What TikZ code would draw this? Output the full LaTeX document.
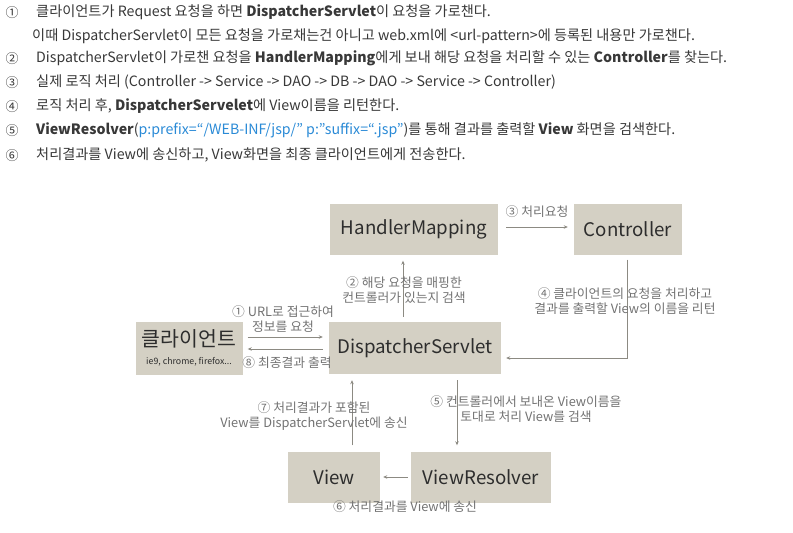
\documentclass[tikz,border=0pt]{standalone}
\usepackage{fontspec}
\setmainfont{Noto Sans CJK KR}
\usetikzlibrary{positioning,arrows.meta}
\definecolor{boxbeige}{HTML}{D4D0C4}
\definecolor{wire}{HTML}{8C8A82}
\definecolor{note}{HTML}{727272}
\definecolor{ink}{HTML}{383838}
\definecolor{linkblue}{HTML}{2A8AD6}

\begin{document}
\begin{tikzpicture}[x=1pt, y=-1pt,
  numlabel/.style={inner sep=0pt, text=ink, font=\fontsize{13}{15}\selectfont},
  textline/.style={anchor=west, inner sep=0pt, text height=10pt, text depth=3pt, text=ink, font=\fontsize{14.2}{16}\selectfont},
  box/.style={fill=boxbeige, inner sep=0pt, minimum height=51pt, text=ink!80!black, font=\fontsize{18.7}{19}\selectfont},
  flow/.style={draw=wire, line width=1pt, -{Stealth[length=4pt,width=3.5pt]}},
  remark/.style={align=center, inner sep=0pt, text=note, font=\fontsize{12.8}{14.5}\selectfont}]
\useasboundingbox (0,0) rectangle (793,533);

\node[numlabel] (n1) at (12,13) {①};
\node[textline] (t1) at (36,13) {클라이언트가 Request 요청을 하면 \textbf{DispatcherServlet}이 요청을 가로챈다.};
\node[textline] (t1b) at (32,37) {이때 DispatcherServlet이 모든 요청을 가로채는건 아니고 web.xml에 <url-pattern>에 등록된 내용만 가로챈다.};
\node[numlabel] (n2) at (12,59) {②};
\node[textline] (t2) at (36,59) {DispatcherServlet이 가로챈 요청을 \textbf{HandlerMapping}에게 보내 해당 요청을 처리할 수 있는 \textbf{Controller}를 찾는다.};
\node[numlabel] (n3) at (12,83) {③};
\node[textline] (t3) at (36,83) {실제 로직 처리 (Controller -> Service -> DAO -> DB -> DAO -> Service -> Controller)};
\node[numlabel] (n4) at (12,107) {④};
\node[textline] (t4) at (36,107) {로직 처리 후, \textbf{DispatcherServelet}에 View이름을 리턴한다.};
\node[numlabel] (n5) at (12,131) {⑤};
\node[textline] (t5) at (36,131) {\textbf{ViewResolver}(\textcolor{linkblue}{p:prefix=“/WEB-INF/jsp/” p:”suffix=“.jsp”})를 통해 결과를 출력할 \textbf{View} 화면을 검색한다.};
\node[numlabel] (n6) at (12,156) {⑥};
\node[textline] (t6) at (36,156) {처리결과를 View에 송신하고, View화면을 최종 클라이언트에게 전송한다.};

\node[box, minimum width=168pt] (hm) at (414,229) {HandlerMapping};
\node[box, minimum width=108pt] (ctrl) at (628,229) {Controller};
\node[box, minimum width=107pt, minimum height=53pt, align=center] (client) at (189,348) {{\fontsize{20.5}{21}\selectfont 클라이언트}\\[-1pt]{\fontsize{8.8}{9}\selectfont ie9, chrome, firefox...}};
\node[box, minimum width=172pt, minimum height=52pt] (ds) at (415,348) {DispatcherServlet};
\node[box, minimum width=92pt] (view) at (334,477) {View};
\node[box, minimum width=140pt] (vr) at (481,477) {ViewResolver};

\draw[flow] ([xshift=5pt,yshift=11pt]client.east) -- ([xshift=-6pt,yshift=11pt]ds.west);
\draw[flow] ([xshift=-6pt,yshift=-1pt]ds.west) -- ([xshift=5pt,yshift=-1pt]client.east);
\draw[flow] ([xshift=-12pt,yshift=5pt]ds.north) -- ([xshift=-11pt,yshift=-6pt]hm.south);
\draw[flow] ([xshift=8pt,yshift=2pt]hm.east) -- ([xshift=-6pt,yshift=2pt]ctrl.west);
\draw[flow] ([xshift=-1pt,yshift=-5pt]ctrl.south) |- ([xshift=5pt,yshift=-10pt]ds.east);
\draw[flow] ([xshift=42pt,yshift=-6pt]ds.south) -- ([xshift=-24pt,yshift=6pt]vr.north);
\draw[flow] ([xshift=-3pt]vr.west) -- ([xshift=3pt]view.east);
\draw[flow] ([xshift=18pt,yshift=6pt]view.north) -- ([xshift=-63pt,yshift=-6pt]ds.south);

\node[remark] (r1) at (283,319) {① URL로 접근하여\\정보를 요청};
\node[remark] (r8) at (287,363) {⑧ 최종결과 출력};
\node[remark] (r2) at (404,290) {② 해당 요청을 매핑한\\컨트롤러가 있는지 검색};
\node[remark] (r3) at (537,212) {③ 처리요청};
\node[remark] (r4) at (625,301) {④ 클라이언트의 요청을 처리하고\\결과를 출력할 View의 이름을 리턴};
\node[remark] (r5) at (526,409) {⑤ 컨트롤러에서 보내온 View이름을\\토대로 처리 View를 검색};
\node[remark] (r7) at (314,416) {⑦ 처리결과가 포함된\\View를 DispatcherServlet에 송신};
\node[remark] (r6) at (405,507) {⑥ 처리결과를 View에 송신};
\end{tikzpicture}
\end{document}
